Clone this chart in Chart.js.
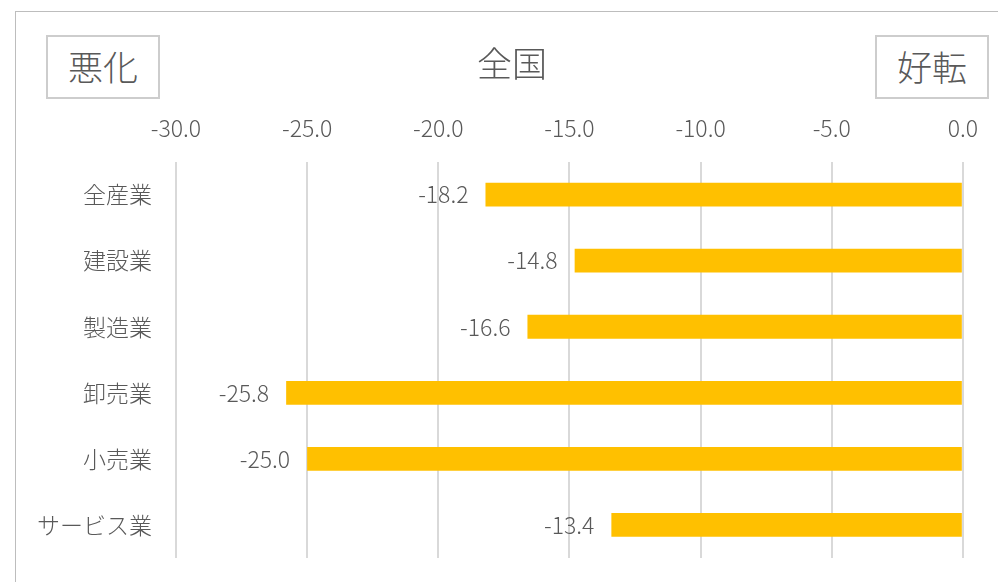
<!DOCTYPE html>
<html lang="ja">
<head>
<meta charset="utf-8">
<script src="https://cdn.jsdelivr.net/npm/chart.js@4"></script>
<style>
  html, body { margin: 0; padding: 0; background: #fff; }
  body { width: 998px; height: 582px; position: relative; overflow: hidden;
         font-family: "Noto Sans CJK JP", sans-serif; }
  #frame { position: absolute; left: 15px; top: 11px; width: 1100px; height: 700px;
           border: 1px solid #bdbdbd; box-sizing: border-box; }
  #wrap { position: absolute; left: 0; top: 0; width: 998px; height: 582px; }
  #title { position: absolute; left: 412px; top: 41px; width: 200px; text-align: center;
           font-size: 35px; font-weight: 300; line-height: 42px; color: #595959; }
  .tag { position: absolute; top: 35px; width: 114px; height: 64px; box-sizing: border-box;
         border: 2px solid #cdcdcd; color: #595959; font-size: 35px; font-weight: 300;
         line-height: 58px; text-align: center; background: #fff; }
</style>
</head>
<body>
<div id="frame"></div>
<div id="wrap"><canvas id="chart" width="998" height="582"></canvas></div>
<div id="title">全国</div>
<div class="tag" style="left:46px">悪化</div>
<div class="tag" style="left:875px">好転</div>
<script>
// 業種別の値（全国）
const industries = ['全産業', '建設業', '製造業', '卸売業', '小売業', 'サービス業'];
const values = [-18.2, -14.8, -16.6, -25.8, -25.0, -13.4];
const axisMin = -30;
const axisMax = 0;
const axisStep = 5;

const textColor = '#595959';
const jpFont = '"Noto Sans CJK JP", sans-serif';

// バーの左側に数値を表示
const valueLabels = {
    id: 'valueLabels',
    afterDatasetsDraw(chart) {
        const ctx = chart.ctx;
        const meta = chart.getDatasetMeta(0);
        ctx.save();
        ctx.font = '300 23px ' + jpFont;
        ctx.fillStyle = textColor;
        ctx.textAlign = 'right';
        ctx.textBaseline = 'middle';
        meta.data.forEach((bar, i) => {
            ctx.fillText(values[i].toFixed(1), bar.x - 17, bar.y);
        });
        ctx.restore();
    }
};

new Chart(document.getElementById('chart'), {
    type: 'bar',
    data: {
        labels: industries,
        datasets: [{
            data: values,
            backgroundColor: '#FFC000',
            barPercentage: 0.36,
            categoryPercentage: 1.0
        }]
    },
    options: {
        indexAxis: 'y',
        responsive: false,
        animation: false,
        layout: { padding: { top: 94, right: 35, bottom: 24, left: 0 } },
        plugins: {
            legend: { display: false },
            tooltip: { enabled: false }
        },
        scales: {
            x: {
                position: 'top',
                min: axisMin,
                max: axisMax,
                border: { display: false },
                grid: { color: '#d9d9d9', lineWidth: 2, drawTicks: false },
                ticks: {
                    stepSize: axisStep,
                    padding: 20,
                    color: textColor,
                    font: { family: jpFont, size: 23, weight: 300 },
                    callback: v => v.toFixed(1)
                }
            },
            y: {
                border: { display: false },
                grid: { display: false, drawTicks: false },
                afterFit(scale) {
                    scale.width = 176;
                    scale.paddingTop = 0;
                    scale.paddingBottom = 0;
                },
                ticks: {
                    padding: 24,
                    color: textColor,
                    font: { family: jpFont, size: 23, weight: 300 }
                }
            }
        }
    },
    plugins: [valueLabels]
});
</script>
</body>
</html>
